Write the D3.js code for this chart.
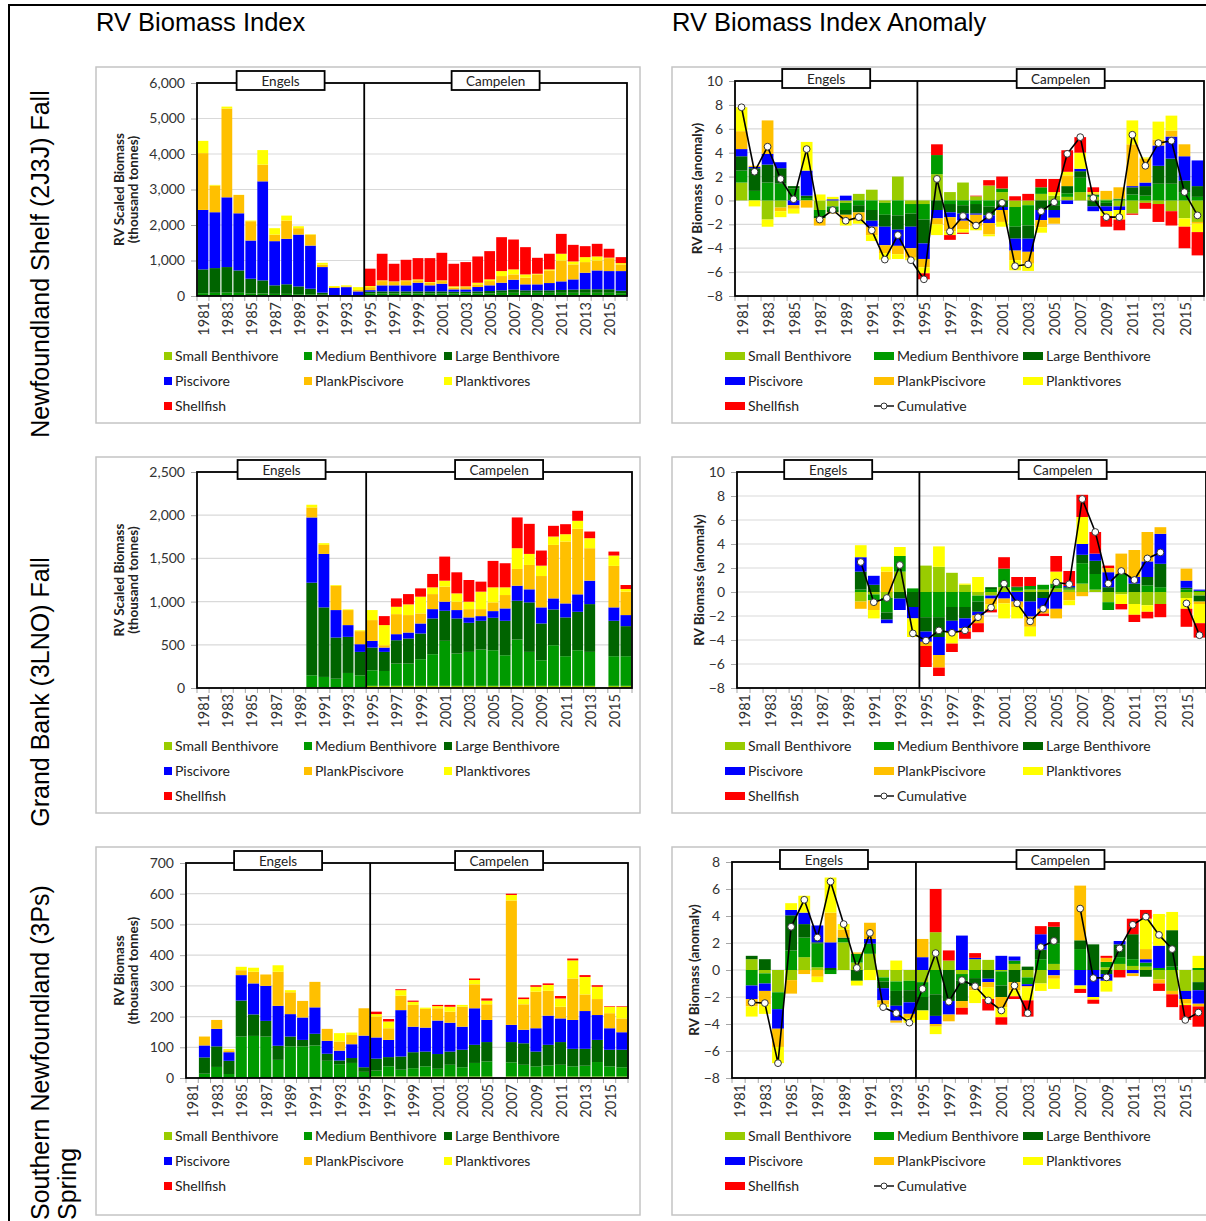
<!DOCTYPE html>
<html>
<head>
<meta charset="utf-8">
<script src="https://cdn.jsdelivr.net/npm/d3@7"></script>
<style>
  body { margin: 0; background: #fff; }
  svg { display: block; }
  text { font-family: Lato, "Noto Sans", sans-serif; }
</style>
</head>
<body>
<svg id="fig" width="1206" height="1221"></svg>
<script>
// categories
const years = [1981, 1982, 1983, 1984, 1985, 1986, 1987, 1988, 1989, 1990, 1991, 1992,
               1993, 1994, 1995, 1996, 1997, 1998, 1999, 2000, 2001, 2002, 2003, 2004,
               2005, 2006, 2007, 2008, 2009, 2010, 2011, 2012, 2013, 2014, 2015, 2016]
const seriesNames = ["Small Benthivore", "Medium Benthivore", "Large Benthivore",
                     "Piscivore", "PlankPiscivore", "Planktivores", "Shellfish"]
const seriesColors = ["#99cc00", "#009a00", "#006400", "#0000ff", "#ffc000", "#ffff00", "#ff0000"]

// Newfoundland Shelf (2J3K) fall, RV biomass index (thousand tonnes)
const nfIdxSmall  = [10,10,10,10,10,10,10,10,10,10,5,5,5,5, 10,10,10,10,10,10,10,10,10,10,10,10,10,10,10,10,10,10,10,10,10,10]
const nfIdxMedium = [70,80,85,80,60,60,50,50,40,40,30,10,10,5, 60,60,60,60,60,60,60,60,60,60,60,80,80,80,80,80,80,80,80,80,80,70]
const nfIdxLarge  = [670,696,720,630,417,370,240,270,220,155,60,10,5,5, 50,60,60,60,60,60,60,50,50,60,70,70,90,70,70,70,80,90,100,100,100,70]
const nfIdxPisc   = [1675,1574,1965,1610,1076,2790,1245,1280,1460,1215,720,200,230,115, 45,170,170,170,244,170,216,67,67,123,160,214,279,168,168,205,242,288,465,530,512,552]
const nfIdxPlankPisc = [1600,750,2500,515,543,470,185,515,180,310,65,25,20,40, 85,120,93,120,71,75,74,48,63,75,121,188,149,187,280,355,588,422,300,280,365,188]
const nfIdxPlankt = [345,20,55,5,19,410,180,140,55,10,55,30,30,80, 30,20,17,20,23,18,20,36,21,46,47,140,141,93,19,29,190,83,140,114,13,37]
const nfIdxShell  = [0,0,0,0,0,0,0,0,0,0,0,0,0,0, 490,750,498,580,599,674,777,637,684,740,796,955,842,768,449,441,560,468,309,356,250,168]

// Grand Bank (3LNO) fall
const gbIdxSmall  = [null,null,null,null,null,null,null,null,null, 10,5,5,5,5, 25,25,25,25,25,25,25,25,25,25,25,25,25,25,25,25,25,25,25, null, 25,25]
const gbIdxMedium = [null,null,null,null,null,null,null,null,null, 137,123,103,169,142, 180,172,258,258,308,366,521,374,393,420,412,354,536,393,296,470,343,412,393, null, 343,343]
const gbIdxLarge  = [null,null,null,null,null,null,null,null,null, 1072,805,476,418,271, 263,221,270,290,298,414,348,406,337,333,376,399,449,573,426,414,449,445,553, null, 410,348]
const gbIdxPisc   = [null,null,null,null,null,null,null,null,null, 755,619,318,136,89, 78,50,70,69,116,108,105,97,62,54,77,143,174,151,186,128,162,202,271, null, 155,128]
const gbIdxPlankPisc = [null,null,null,null,null,null,null,null,null, 116,104,282,174,151, 240,27,232,202,116,174,174,97,96,81,101,155,194,282,363,619,716,758,376, null, 480,271]
const gbIdxPlankt = [null,null,null,null,null,null,null,null,null, 31,20,8,8,10, 116,233,85,124,194,78,69,96,86,202,174,89,240,128,120,97,85,93,116, null, 120,31]
const gbIdxShell  = [null,null,null,null,null,null,null,null,null, 0,0,0,0,0, 0,104,97,119,96,155,279,244,251,116,306,279,356,348,175,124,116,116,77, null, 46,46]

// Southern Newfoundland (3Ps) spring
const spIdxSmall  = [null, 0,0,0,0,0,0,0,0,0,0,0,0,0,0, 5,5,5,5,5,5,5,5,5,5, null, 5,5,5,5,5,5,5,5,5,5]
const spIdxMedium = [null, 14,36,13,135,137,135,59,103,103,106,56,45,49,20, 19,33,22,27,33,25,38,30,44,49, null, 46,38,33,36,38,33,35,47,33,30]
const spIdxLarge  = [null, 53,67,43,117,70,51,46,32,21,38,23,12,16,15, 39,30,43,52,48,48,43,57,59,63, null, 66,70,48,67,74,57,55,72,54,57]
const spIdxPisc   = [null, 39,57,28,83,101,114,130,73,73,86,42,32,45,103, 69,56,151,83,78,109,94,75,119,72, null, 56,44,76,95,77,94,123,81,70,57]
const spIdxPlankPisc = [null, 29,29,6,16,38,37,111,71,54,83,39,30,30,89, 68,38,47,71,61,40,36,65,78,51, null, 405,83,119,81,38,135,54,52,49,45]
const spIdxPlankt = [null, 0,0,4,11,13,0,21,7,0,0,0,27,8,0, 8,22,18,10,4,7,16,6,14,12, null, 18,17,16,19,27,59,57,40,21,38]
const spIdxShell  = [null, 0,0,0,0,0,0,0,0,0,0,0,0,0,0, 8,8,3,4,0,4,6,0,5,7, null, 4,5,5,5,8,6,6,5,2,2]

// anomalies, Newfoundland Shelf
const nfAnSmall  = [1.5,0,-1.6,-0.6,0,0,-0.8,-0.5,-0.2,0.55,0.9,-0.2,2.0,-0.3, -0.3,2.2,0.7,1.5,0.35,1.25,0.7,-0.55,-0.4,0.55,0.4,0.3,0.7,0.3,0.1,-0.5,-1.1,-0.2,-0.3,-0.9,-1.5,-1.8]
const nfAnMedium = [1.0,0.8,1.5,1.4,1.0,0.2,-0.5,-0.3,-0.6,-0.4,-0.8,-1.0,-1.25,-0.8, -1.3,1.6,-0.3,-0.4,-0.3,-0.5,0.3,-1.65,-1.7,0.55,-0.4,0.3,1.2,0.2,-0.2,0.1,0.5,0.4,1.4,1.4,0.7,0.3]
const nfAnLarge  = [1.2,1.9,1.5,1.3,0.2,0.2,-0.2,-0.2,-0.4,-0.6,-0.9,-1.0,-1.2,-1.1, -2.0,-0.8,-0.7,-0.7,-0.8,-0.75,-0.55,-1.0,-1.1,-0.8,-0.4,0.6,0.55,-0.5,-0.3,0.05,0.6,0.8,1.5,2.1,0.95,0.9]
const nfAnPisc   = [0.6,0.1,0.9,0.5,-0.4,2.1,0,0.1,0.4,0,-0.5,-1.55,-1.35,-1.8, -1.3,-0.7,-0.4,-0.6,-0.1,-0.65,-0.25,-1.0,-1.1,-0.85,-0.65,-0.3,0.2,-0.4,-0.4,-0.3,0.1,0.3,1.7,1.85,2.05,2.15]
const nfAnPlankPisc = [1.5,0.1,2.8,-0.3,-0.3,-0.6,-0.6,-0.1,-0.5,-0.7,-0.7,-0.65,-0.7,-0.8, -0.7,-0.5,-1.2,-0.7,-1.0,-0.95,-1.0,-0.8,-1.0,-0.6,-0.5,0.9,0,0.1,0.7,0.95,3.5,2.0,0.5,0.5,1.0,-0.15]
const nfAnPlankt = [2.0,-0.5,-0.6,-0.5,-0.4,2.4,0.5,0.2,-0.4,-0.25,-0.5,-0.55,-0.4,-0.2, -0.5,-0.9,-0.3,-0.3,-0.3,-0.15,-0.4,-0.85,-0.6,-0.45,0.3,0.3,1.35,0.1,-0.4,-0.8,2.0,0.1,1.5,1.25,-0.7,-0.7]
const nfAnShell  = [0,0,0,0,0,0,0,0,0,0,0,0,0,0, -0.5,0.9,-0.4,-0.1,0.05,0.45,1.0,0.35,0.55,0.7,1.1,1.8,1.3,0.4,-0.9,-0.9,-0.1,-0.5,-1.5,-1.2,-1.8,-1.95]

// anomalies, Grand Bank
const gbAnSmall  = [null,null,null,null,null,null,null,null,null, -0.8,-0.2,-0.5,1.7,0, 2.2,2.1,1.6,0.6,-0.3,-0.3,0.4,0.1,0.2,0.2,0.3,0.2,0.7,0.2,-0.85,-0.2,-1.0,-1.1,-1.0, null, -0.5,-0.3]
const gbAnMedium = [null,null,null,null,null,null,null,null,null, 0.2,-0.5,-1.2,1.3,0.3, -2.1,-2.1,-1.25,-1.25,-0.5,0.25,1.55,0.25,0.3,0.4,0.3,0.1,1.7,1.3,-0.65,1.5,0,0.55,0.4, null, 0.2,0.1]
const gbAnLarge  = [null,null,null,null,null,null,null,null,null, 1.5,0.6,-0.6,-0.55,-1.25, -1.2,-1.65,-1.15,-0.95,-0.85,0.15,0,0.1,-0.8,-0.5,0.1,0.1,0.7,1.1,0.4,0,0.7,0.7,1.95, null, 0.15,-0.5]
const gbAnPisc   = [null,null,null,null,null,null,null,null,null, 1.2,0.75,-0.3,-0.95,-0.95, -0.85,-1.5,-0.9,-0.8,-0.3,-0.25,-0.55,-0.8,-1.25,-0.9,-1.4,0.1,0.9,0.6,1.25,0,0.55,1.3,2.5, null, 0.6,0.1]
const gbAnPlankPisc = [null,null,null,null,null,null,null,null,null, -0.6,-0.8,1.7,0,0, -0.35,-1.05,0,-0.3,-0.65,-0.5,-0.4,-0.45,-0.85,-0.4,-0.8,-0.7,-0.35,0,0.35,1.7,2.25,2.45,0.55, null, 1.0,-0.2]
const gbAnPlankt = [null,null,null,null,null,null,null,null,null, 1.0,-0.7,0.4,0.75,-1.55, 0,1.7,-1.0,0.1,1.25,-0.4,-1.25,-0.95,-0.8,0,1.0,-0.4,2.25,0,0,-0.8,-0.9,-0.55,0, null, -0.9,-1.6]
const gbAnShell  = [null,null,null,null,null,null,null,null,null, 0,0,0,0,0, -1.75,-0.7,-0.7,-0.6,-0.75,-0.25,0.95,0.8,0.75,-0.2,1.3,1.25,1.85,1.8,0.2,-0.45,-0.6,-0.55,-1.1, null, -1.5,-1.2]

// anomalies, Southern Newfoundland
const spAnSmall  = [null, 0.8,-0.25,-1.65,-0.75,0.95,0.2,0,2.05,0.55,1.2,-0.55,-0.85,-0.8, -0.9,2.8,0.7,-0.3,0.8,0.75,-0.1,0.45,-0.55,-1.0,0.45, null, 0,0,0.2,0.45,0.3,0.25,-0.7,-1.55,-1.55,-0.9]
const spAnMedium = [null, -1.15,-0.75,-1.25,1.45,1.45,1.75,-0.3,0.25,0.65,0.75,-0.3,-0.7,-0.7, -1.1,-1.8,0,-0.5,-0.6,0,-1.05,0.25,-0.5,0.8,1.5, null, 1.55,0,0.4,0.5,0.5,0.3,0.15,0.25,0,0.15]
const spAnLarge  = [null, 0.25,0.8,0,2.6,1.0,0.1,0.15,0.1,-0.8,0,-0.5,-1.1,-0.9, -1.0,-1.6,-2.3,-1.5,-0.6,-0.65,-0.85,-0.9,0.25,0.7,1.25, null, 0.65,1.9,-0.3,0.95,1.85,-0.5,0,2.7,0,-0.6]
const spAnPisc   = [null, -1.0,-0.55,-1.45,0.4,0.85,1.25,1.9,0,0,0.35,-0.9,-1.1,-0.85, 0.95,-0.6,-1.0,2.55,0.1,-0.25,1.05,0.3,-0.15,1.15,-0.4, null, -1.15,-2.0,-0.5,0.25,-0.25,0.25,1.65,0,-0.6,-1.0]
const spAnPlankPisc = [null, -0.55,-1.0,-1.35,-1.0,-0.3,-0.5,2.2,0.6,0.1,1.2,-0.3,-0.15,-0.3, 1.35,-0.2,-0.5,-0.5,-0.3,-0.4,-0.75,-0.6,-0.1,0,-0.25, null, 4.05,0,0.3,0,-0.2,0.75,-0.3,-0.25,-0.35,-0.2]
const spAnPlankt = [null, -0.75,-0.7,-1.2,0.5,1.25,-0.4,2.6,0.4,-0.35,-0.75,-0.2,0.7,-0.35, -0.7,-0.55,0,0,-0.95,-0.85,-0.75,-0.45,-0.95,-0.55,-0.75, null, -0.25,-0.2,-0.8,0,0,2.25,2.35,1.35,-0.1,0.9]
const spAnShell  = [null, 0,0,0,0,0,0,0,0,0,0,0,0,0, 0,3.2,0.75,-0.5,0.35,-0.85,-0.55,-0.2,-1.2,0.6,0.35, null, -0.3,-0.3,0.15,-0.55,1.15,0.65,-0.55,-0.95,-1.1,-1.5]

// tick values
const nfIdxTicks = [0, 1000, 2000, 3000, 4000, 5000, 6000]
const gbIdxTicks = [0, 500, 1000, 1500, 2000, 2500]
const spIdxTicks = [0, 100, 200, 300, 400, 500, 600, 700]
const anomTicks10 = [-8, -6, -4, -2, 0, 2, 4, 6, 8, 10]
const anomTicks8 = [-8, -6, -4, -2, 0, 2, 4, 6, 8]
const labelYears = [1981, 1983, 1985, 1987, 1989, 1991, 1993, 1995, 1997, 1999,
                    2001, 2003, 2005, 2007, 2009, 2011, 2013, 2015]

const keys = seriesNames.map((d, i) => "s" + i)
const svg = d3.select("#fig")

// layout of the six panels: frame [x, y, w, h], plot [x0, y0, x1, y1]
const panels = [
  {kind: "index", data: [nfIdxSmall, nfIdxMedium, nfIdxLarge, nfIdxPisc, nfIdxPlankPisc, nfIdxPlankt, nfIdxShell],
   frame: [96, 67, 544, 356], plot: [197, 83, 627, 296], ticks: nfIdxTicks, fmt: d3.format(","), split: 14,
   yTitle: ["RV Scaled Biomass", "(thousand tonnes)"]},
  {kind: "anom", data: [nfAnSmall, nfAnMedium, nfAnLarge, nfAnPisc, nfAnPlankPisc, nfAnPlankt, nfAnShell],
   frame: [672, 67, 600, 356], plot: [735, 81, 1204, 296], ticks: anomTicks10, fmt: d3.format("d"), split: 14,
   yTitle: ["RV Biomass (anomaly)"]},
  {kind: "index", data: [gbIdxSmall, gbIdxMedium, gbIdxLarge, gbIdxPisc, gbIdxPlankPisc, gbIdxPlankt, gbIdxShell],
   frame: [96, 457, 544, 356], plot: [197, 472, 632, 688], ticks: gbIdxTicks, fmt: d3.format(","), split: 14,
   yTitle: ["RV Scaled Biomass", "(thousand tonnes)"]},
  {kind: "anom", data: [gbAnSmall, gbAnMedium, gbAnLarge, gbAnPisc, gbAnPlankPisc, gbAnPlankt, gbAnShell],
   frame: [672, 457, 600, 356], plot: [737, 472, 1206, 688], ticks: anomTicks10, fmt: d3.format("d"), split: 14,
   yTitle: ["RV Biomass (anomaly)"]},
  {kind: "index", data: [spIdxSmall, spIdxMedium, spIdxLarge, spIdxPisc, spIdxPlankPisc, spIdxPlankt, spIdxShell],
   frame: [96, 847, 544, 368], plot: [186, 863, 628, 1078], ticks: spIdxTicks, fmt: d3.format("d"), split: 15,
   yTitle: ["RV Biomass", "(thousand tonnes)"]},
  {kind: "anom", data: [spAnSmall, spAnMedium, spAnLarge, spAnPisc, spAnPlankPisc, spAnPlankt, spAnShell],
   frame: [672, 847, 600, 368], plot: [732, 862, 1205, 1078], ticks: anomTicks8, fmt: d3.format("d"), split: 14,
   yTitle: ["RV Biomass (anomaly)"]}
]

function drawPanel(p) {
  const g = svg.append("g")
  const [px0, py0, px1, py1] = p.plot

  g.append("rect")
    .attr("x", p.frame[0]).attr("y", p.frame[1])
    .attr("width", p.frame[2]).attr("height", p.frame[3])
    .attr("fill", "#fff").attr("stroke", "#c4c4c4").attr("stroke-width", 1.5)

  const x = d3.scaleBand().domain(years).range([px0, px1])
  const y = d3.scaleLinear().domain(d3.extent(p.ticks)).range([py1, py0])
  const bw = x.bandwidth()

  // gridlines
  g.selectAll(".grid").data(p.ticks).join("line")
    .attr("x1", px0).attr("x2", px1)
    .attr("y1", d => y(d)).attr("y2", d => y(d))
    .attr("stroke", "#d9d9d9").attr("stroke-width", 1.2)

  // stacked bars (positives up, negatives down like Excel)
  const rows = years.map((yr, i) => {
    const o = {year: yr, has: p.data.some(s => s[i] != null)}
    keys.forEach((k, j) => { o[k] = p.data[j][i] == null ? 0 : p.data[j][i] })
    return o
  })
  const stack = d3.stack().keys(keys)
    .offset(p.kind === "anom" ? d3.stackOffsetDiverging : d3.stackOffsetNone)
  const layers = stack(rows)

  g.selectAll(".layer").data(layers).join("g")
    .attr("fill", (d, i) => seriesColors[i])
    .selectAll("rect")
    .data(d => d.filter(v => v.data.has && v[1] !== v[0]))
    .join("rect")
    .attr("x", d => x(d.data.year) + bw * 0.05)
    .attr("width", bw * 0.9)
    .attr("y", d => y(Math.max(d[0], d[1])))
    .attr("height", d => Math.abs(y(d[0]) - y(d[1])))

  // y axis
  const yAxis = g.append("g")
    .attr("transform", `translate(${px0 - 1},0)`)
    .call(d3.axisLeft(y).tickValues(p.ticks).tickFormat(p.fmt).tickSize(5).tickPadding(6))
  yAxis.select(".domain").remove()
  yAxis.selectAll("line").attr("stroke", "#a6a6a6")
  yAxis.selectAll("text").attr("fill", "#333").style("font-size", "14px").style("font-family", "Lato, sans-serif")

  // x axis: boundary ticks, labels every other year
  const edges = years.map(d => x(d)).concat([px1])
  g.selectAll(".xtick").data(edges).join("line")
    .attr("x1", d => d).attr("x2", d => d)
    .attr("y1", py1).attr("y2", py1 + 5)
    .attr("stroke", "#a6a6a6")
  g.selectAll(".xlab").data(labelYears).join("text")
    .attr("transform", d => `translate(${x(d) + bw / 2 + 1},${py1 + 6}) rotate(-90)`)
    .attr("text-anchor", "end").attr("dy", "0.35em")
    .attr("fill", "#333").style("font-size", "14.5px")
    .text(d => d)

  // cumulative line for the anomaly plots
  if (p.kind === "anom") {
    const cum = rows.map(r => r.has ? d3.sum(keys, k => r[k]) : null)
    const line = d3.line()
      .defined(d => d != null)
      .x((d, i) => x(years[i]) + bw / 2)
      .y(d => y(d))
    g.append("path").datum(cum)
      .attr("d", line).attr("fill", "none")
      .attr("stroke", "#000").attr("stroke-width", 1.6)
    g.selectAll(".pt").data(cum.map((v, i) => ({v, i})).filter(d => d.v != null)).join("circle")
      .attr("cx", d => x(years[d.i]) + bw / 2).attr("cy", d => y(d.v))
      .attr("r", 3.4).attr("fill", "#fff").attr("stroke", "#333").attr("stroke-width", 1)
  }

  // plot border and survey gear divider
  g.append("rect")
    .attr("x", px0).attr("y", py0).attr("width", px1 - px0).attr("height", py1 - py0)
    .attr("fill", "none").attr("stroke", "#000").attr("stroke-width", 1.8)
  const divX = px0 + p.split * x.step()
  g.append("line")
    .attr("x1", divX).attr("x2", divX).attr("y1", py0).attr("y2", py1)
    .attr("stroke", "#000").attr("stroke-width", 1.8)

  const boxes = [["Engels", (px0 + divX) / 2], ["Campelen", (divX + px1) / 2]]
  boxes.forEach(([label, cx]) => {
    g.append("rect")
      .attr("x", cx - 44).attr("y", py0 - 12).attr("width", 88).attr("height", 19)
      .attr("fill", "#fff").attr("stroke", "#000").attr("stroke-width", 1.8)
    g.append("text")
      .attr("x", cx).attr("y", py0 + 2.5).attr("text-anchor", "middle")
      .attr("fill", "#222").style("font-size", "13.5px")
      .text(label)
  })

  // y axis title
  const ty = (py0 + py1) / 2
  const tx = p.kind === "anom" ? px0 - 37 : 127
  p.yTitle.forEach((t, i) => {
    const off = (i - (p.yTitle.length - 1) / 2) * 14
    g.append("text")
      .attr("transform", `translate(${tx + off + 4},${ty}) rotate(-90)`)
      .attr("text-anchor", "middle")
      .style("font-size", "13.5px").style("font-weight", "bold")
      .attr("fill", "#222")
      .text(t)
  })

  // legend
  const isAnom = p.kind === "anom"
  const colX = isAnom ? [725, 874, 1023] : [164, 304, 444]
  const rowY0 = p.frame[1] + 289
  const items = seriesNames.map((n, i) => ({name: n, color: seriesColors[i]}))
  if (isAnom) items.push({name: "Cumulative", line: true})
  items.forEach((it, i) => {
    const lx = colX[i % 3]
    const ly = rowY0 + Math.floor(i / 3) * 25
    const mw = isAnom ? 20 : 8
    if (it.line) {
      g.append("line").attr("x1", lx).attr("x2", lx + mw).attr("y1", ly).attr("y2", ly)
        .attr("stroke", "#000").attr("stroke-width", 1.4)
      g.append("circle").attr("cx", lx + mw / 2).attr("cy", ly).attr("r", 3)
        .attr("fill", "#fff").attr("stroke", "#333")
    } else {
      g.append("rect").attr("x", lx).attr("y", ly - 4).attr("width", mw).attr("height", 8)
        .attr("fill", it.color)
    }
    g.append("text")
      .attr("x", lx + mw + 3).attr("y", ly).attr("dy", "0.35em")
      .attr("fill", "#222").style("font-size", "14px")
      .text(it.name)
  })
}

panels.forEach(drawPanel)

// figure frame and headings
svg.append("rect")
  .attr("x", 9).attr("y", 5).attr("width", 1300).attr("height", 1300)
  .attr("fill", "none").attr("stroke", "#000").attr("stroke-width", 2)

const arial = "'Liberation Sans', Arial, sans-serif"
svg.append("text").attr("x", 96).attr("y", 31)
  .style("font-family", arial).style("font-size", "25.5px").text("RV Biomass Index")
svg.append("text").attr("x", 672).attr("y", 31)
  .style("font-family", arial).style("font-size", "25.5px").text("RV Biomass Index Anomaly")

const rowTitles = [
  {text: "Newfoundland Shelf (2J3J) Fall", x: 49, y: 264, anchor: "middle"},
  {text: "Grand Bank (3LNO) Fall", x: 49, y: 692, anchor: "middle"},
  {text: "Southern Newfoundland (3Ps)", x: 49, y: 1220, anchor: "start"},
  {text: "Spring", x: 76, y: 1220, anchor: "start"}
]
rowTitles.forEach(t => {
  svg.append("text")
    .attr("transform", `translate(${t.x},${t.y}) rotate(-90)`)
    .attr("text-anchor", t.anchor)
    .style("font-family", arial).style("font-size", "25px")
    .text(t.text)
})
</script>
</body>
</html>
